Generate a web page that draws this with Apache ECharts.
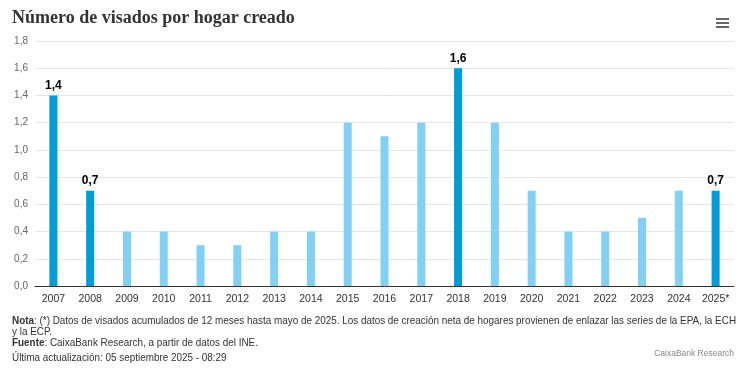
<!DOCTYPE html>
<html><head><meta charset="utf-8">
<script src="https://cdn.jsdelivr.net/npm/echarts@6/dist/echarts.min.js"></script>
<style>html,body{margin:0;padding:0;background:#fff}#c{width:744px;height:374px}</style>
</head><body><div id="c"></div>
<script>
const categories = ['2007','2008','2009','2010','2011','2012','2013','2014','2015','2016','2017','2018','2019','2020','2021','2022','2023','2024','2025*'];
const values = [1.4,0.7,0.4,0.4,0.3,0.3,0.4,0.4,1.2,1.1,1.2,1.6,1.2,0.7,0.4,0.4,0.5,0.7,0.7];
const highlighted = ['2007','2008','2018','2025*'];
const yTicks = [0,0.2,0.4,0.6,0.8,1.0,1.2,1.4,1.6,1.8];

const DARK = '#009cd9', LIGHT = '#83d0f5';
const SANS = 'Liberation Sans, Arial, sans-serif';
const chart = echarts.init(document.getElementById('c'), null, {renderer:'canvas'});
const fmt = v => v.toFixed(1).replace('.', ',');
const note = (top, content) => ({type:'text', left:12, top:top, scaleX:0.9, originX:0, style:content});
const rich = {b:{fontWeight:'bold', fontSize:11, fill:'#333', fontFamily:SANS}, n:{fontSize:11, fill:'#333', fontFamily:SANS}};
chart.setOption({
  animation:false,
  textStyle:{fontFamily:SANS},
  title:{text:'Número de visados por hogar creado', left:7, top:4,
    textStyle:{fontFamily:'Liberation Serif, Times New Roman, serif', fontWeight:'bold', fontSize:18, color:'#333'}},
  grid:{left:35, right:10, top:41, bottom:88, containLabel:false},
  xAxis:{type:'category', data:categories,
    axisLine:{lineStyle:{color:'#333'}}, axisTick:{show:false},
    axisLabel:{color:'#333', fontSize:10.5, margin:8, interval:0}},
  yAxis:{type:'value', min:0, max:1.8, interval:0.2,
    axisLabel:{color:'#666', fontSize:10, formatter:v=>fmt(v), margin:7},
    splitLine:{lineStyle:{color:'#e6e6e6'}}},
  series:[{type:'bar', barWidth:8,
    data: values.map((v,i)=>{
      const h = highlighted.includes(categories[i]);
      return {value:v, itemStyle:{color:h?DARK:LIGHT},
        label:{show:h, position:'top', formatter:p=>fmt(p.value), fontWeight:'bold', fontSize:12, color:'#000', distance:4}};
    })}],
  graphic:[
    {type:'group', left:716, top:18, children:[
      {type:'rect', shape:{x:0,y:0,width:13,height:2}, style:{fill:'#666'}},
      {type:'rect', shape:{x:0,y:4,width:13,height:2}, style:{fill:'#666'}},
      {type:'rect', shape:{x:0,y:8,width:13,height:2}, style:{fill:'#666'}}]},
    note(315, {rich:rich, text:'{b|Nota}{n|: (*) Datos de visados acumulados de 12 meses hasta mayo de 2025. Los datos de creación neta de hogares provienen de enlazar las series de la EPA, la ECH}'}),
    note(326, {rich:rich, text:'{n|y la ECP.}'}),
    note(337, {rich:rich, text:'{b|Fuente}{n|: CaixaBank Research, a partir de datos del INE.}'}),
    note(352, {rich:rich, text:'{n|Última actualización: 05 septiembre 2025 - 08:29}'}),
    {type:'text', right:10, top:349, style:{text:'CaixaBank Research', fontSize:8.5, fill:'#888', fontFamily:SANS}}
  ]
});
</script></body></html>
